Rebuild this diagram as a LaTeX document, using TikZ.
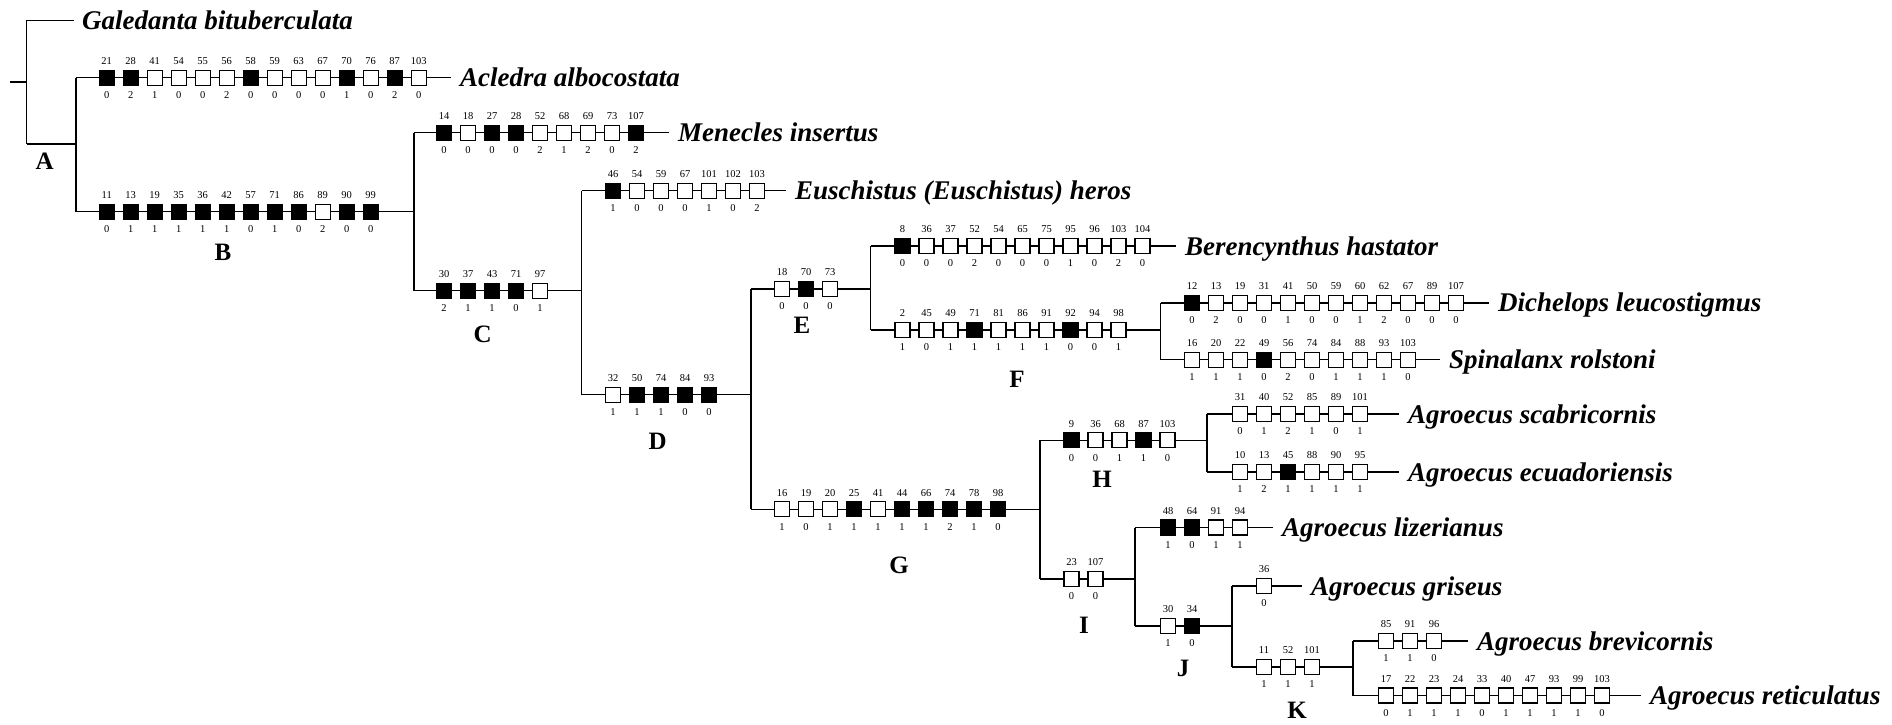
\documentclass[tikz,border=0pt]{standalone}
\usepackage{fontspec}
\setmainfont{Liberation Serif}
\colorlet{F}{black}
\colorlet{O}{white}
\newcommand{\crow}[4]{%
  \foreach \xn/\xt/\xs [count=\xi from 1] in {#4} {
    \node[chbox, fill=\xt] (#1\xi) at ({#2+24*(\xi-1)},#3) {};
    \node[num] (#1t\xi) at ({#2+24*(\xi-1)},{#3-16.5}) {\xn};
    \node[num] (#1s\xi) at ({#2+24*(\xi-1)},{#3+17.5}) {\xs};
  }}
\begin{document}
\begin{tikzpicture}[x=1pt,y=-1pt,
  br/.style={line width=1.3pt},
  chbox/.style={draw, line width=1.1pt, minimum size=15pt, inner sep=0pt},
  num/.style={font=\fontsize{10.5}{10.5}\selectfont, inner sep=0pt},
  taxon/.style={font=\fontsize{27}{27}\selectfont\bfseries\itshape, anchor=base west, inner sep=0pt},
  clade/.style={font=\fontsize{25}{25}\selectfont\bfseries, inner sep=0pt}]
\useasboundingbox (0,0) rectangle (1892,725);

% ---- branch coordinates
\coordinate (root) at (10,82);
\coordinate (rv) at (26.7,82);
\coordinate (galS) at (26.7,20.5);
\coordinate (galE) at (74,20.5);
\coordinate (aS) at (26.7,144);
\coordinate (aV) at (76,144);
\coordinate (aclS) at (76,77.7);
\coordinate (aclE) at (451,77.7);
\coordinate (bS) at (76,211.7);
\coordinate (bE) at (414,211.7);
\coordinate (menS) at (414,132.7);
\coordinate (menE) at (669,132.7);
\coordinate (cS) at (414,290.8);
\coordinate (cE) at (581.6,290.8);
\coordinate (eusS) at (581.6,190.6);
\coordinate (eusE) at (786,190.6);
\coordinate (dS) at (581.6,394.6);
\coordinate (dE) at (751,394.6);
\coordinate (eS) at (751,289);
\coordinate (eE) at (870.5,289);
\coordinate (gS) at (751,509.2);
\coordinate (gE) at (1040,509.2);
\coordinate (berS) at (870.5,246);
\coordinate (berE) at (1176,246);
\coordinate (fS) at (870.5,330);
\coordinate (fE) at (1160.7,330);
\coordinate (dicS) at (1160.7,302.9);
\coordinate (dicE) at (1489,302.9);
\coordinate (spiS) at (1160.7,359.6);
\coordinate (spiE) at (1440,359.6);
\coordinate (hS) at (1040,440.4);
\coordinate (hE) at (1207,440.4);
\coordinate (iS) at (1040,579);
\coordinate (iE) at (1135,579);
\coordinate (scaS) at (1207,414);
\coordinate (scaE) at (1399,414);
\coordinate (ecuS) at (1207,472);
\coordinate (ecuE) at (1399,472);
\coordinate (lizS) at (1135,527.5);
\coordinate (lizE) at (1273,527.5);
\coordinate (jS) at (1135,626);
\coordinate (jE) at (1232,626);
\coordinate (griS) at (1232,586);
\coordinate (griE) at (1302,586);
\coordinate (kS) at (1232,667);
\coordinate (kE) at (1353,667);
\coordinate (breS) at (1353,641);
\coordinate (breE) at (1468,641);
\coordinate (retS) at (1353,695.5);
\coordinate (retE) at (1641,695.5);

% ---- branches
\draw[br] (root) -- (rv);
\draw[br] (galS) -- (aS);
\draw[br] (galS) -- (galE);
\draw[br] (aS) -- (aV);
\draw[br] (aclS) -- (bS);
\draw[br] (aclS) -- (aclE);
\draw[br] (bS) -- (bE);
\draw[br] (menS) -- (cS);
\draw[br] (menS) -- (menE);
\draw[br] (cS) -- (cE);
\draw[br] (eusS) -- (dS);
\draw[br] (eusS) -- (eusE);
\draw[br] (dS) -- (dE);
\draw[br] (eS) -- (gS);
\draw[br] (eS) -- (eE);
\draw[br] (gS) -- (gE);
\draw[br] (berS) -- (fS);
\draw[br] (berS) -- (berE);
\draw[br] (fS) -- (fE);
\draw[br] (dicS) -- (spiS);
\draw[br] (dicS) -- (dicE);
\draw[br] (spiS) -- (spiE);
\draw[br] (hS) -- (iS);
\draw[br] (hS) -- (hE);
\draw[br] (iS) -- (iE);
\draw[br] (scaS) -- (ecuS);
\draw[br] (scaS) -- (scaE);
\draw[br] (ecuS) -- (ecuE);
\draw[br] (lizS) -- (jS);
\draw[br] (lizS) -- (lizE);
\draw[br] (jS) -- (jE);
\draw[br] (griS) -- (kS);
\draw[br] (griS) -- (griE);
\draw[br] (kS) -- (kE);
\draw[br] (breS) -- (retS);
\draw[br] (breS) -- (breE);
\draw[br] (retS) -- (retE);

% ---- character rows
\crow{acl}{106.7}{77.7}{21/F/0,28/F/2,41/O/1,54/O/0,55/O/0,56/O/2,58/F/0,59/O/0,63/O/0,67/O/0,70/F/1,76/O/0,87/F/2,103/O/0}
\crow{b}{106.7}{211.7}{11/F/0,13/F/1,19/F/1,35/F/1,36/F/1,42/F/1,57/F/0,71/F/1,86/F/0,89/O/2,90/F/0,99/F/0}
\crow{men}{444}{132.7}{14/F/0,18/O/0,27/F/0,28/F/0,52/O/2,68/O/1,69/O/2,73/O/0,107/F/2}
\crow{c}{444}{290.8}{30/F/2,37/F/1,43/F/1,71/F/0,97/O/1}
\crow{eus}{613}{190.6}{46/F/1,54/O/0,59/O/0,67/O/0,101/O/1,102/O/0,103/O/2}
\crow{d}{613}{394.6}{32/O/1,50/F/1,74/F/1,84/F/0,93/F/0}
\crow{e}{782}{289}{18/O/0,70/F/0,73/O/0}
\crow{ber}{902.5}{246}{8/F/0,36/O/0,37/O/0,52/O/2,54/O/0,65/O/0,75/O/0,95/O/1,96/O/0,103/O/2,104/O/0}
\crow{f}{902.5}{330}{2/O/1,45/O/0,49/O/1,71/F/1,81/O/1,86/O/1,91/O/1,92/F/0,94/O/0,98/O/1}
\crow{dic}{1192}{302.9}{12/F/0,13/O/2,19/O/0,31/O/0,41/O/1,50/O/0,59/O/0,60/O/1,62/O/2,67/O/0,89/O/0,107/O/0}
\crow{spi}{1192}{359.6}{16/O/1,20/O/1,22/O/1,49/F/0,56/O/2,74/O/0,84/O/1,88/O/1,93/O/1,103/O/0}
\crow{g}{782}{509.2}{16/O/1,19/O/0,20/O/1,25/F/1,41/O/1,44/F/1,66/F/1,74/F/2,78/F/1,98/F/0}
\crow{h}{1071.5}{440.4}{9/F/0,36/O/0,68/O/1,87/F/1,103/O/0}
\crow{sca}{1240}{414}{31/O/0,40/O/1,52/O/2,85/O/1,89/O/0,101/O/1}
\crow{ecu}{1240}{472}{10/O/1,13/O/2,45/F/1,88/O/1,90/O/1,95/O/1}
\crow{i}{1071.5}{579}{23/O/0,107/O/0}
\crow{liz}{1168}{527.5}{48/F/1,64/F/0,91/O/1,94/O/1}
\crow{j}{1168}{626}{30/O/1,34/F/0}
\crow{gri}{1264}{586}{36/O/0}
\crow{k}{1264}{667}{11/O/1,52/O/1,101/O/1}
\crow{bre}{1386}{641}{85/O/1,91/O/1,96/O/0}
\crow{ret}{1386}{695.5}{17/O/0,22/O/1,23/O/1,24/O/1,33/O/0,40/O/1,47/O/1,93/O/1,99/O/1,103/O/0}

% ---- taxa
\node[taxon] (gal) at (82,29.5) {Galedanta bituberculata};
\node[taxon] (acl) at (460,86.7) {Acledra albocostata};
\node[taxon] (men) at (678,141.7) {Menecles insertus};
\node[taxon] (eus) at (795,199.6) {Euschistus (Euschistus) heros};
\node[taxon] (ber) at (1185,255) {Berencynthus hastator};
\node[taxon] (dic) at (1498,311.9) {Dichelops leucostigmus};
\node[taxon] (spi) at (1449,368.6) {Spinalanx rolstoni};
\node[taxon] (sca) at (1408,423) {Agroecus scabricornis};
\node[taxon] (ecu) at (1408,481) {Agroecus ecuadoriensis};
\node[taxon] (liz) at (1282,536.5) {Agroecus lizerianus};
\node[taxon] (gri) at (1311,595) {Agroecus griseus};
\node[taxon] (bre) at (1477,650) {Agroecus brevicornis};
\node[taxon] (ret) at (1650,704.5) {Agroecus reticulatus};

% ---- clade labels
\node[clade] (lA) at (44.6,161) {A};
\node[clade] (lB) at (223,252) {B};
\node[clade] (lC) at (482.6,334) {C};
\node[clade] (lD) at (657.6,441) {D};
\node[clade] (lE) at (802,325) {E};
\node[clade] (lF) at (1017,379) {F};
\node[clade] (lG) at (899,565) {G};
\node[clade] (lH) at (1102,479) {H};
\node[clade] (lI) at (1084,625) {I};
\node[clade] (lJ) at (1183,668) {J};
\node[clade] (lK) at (1297,710) {K};
\end{tikzpicture}
\end{document}
